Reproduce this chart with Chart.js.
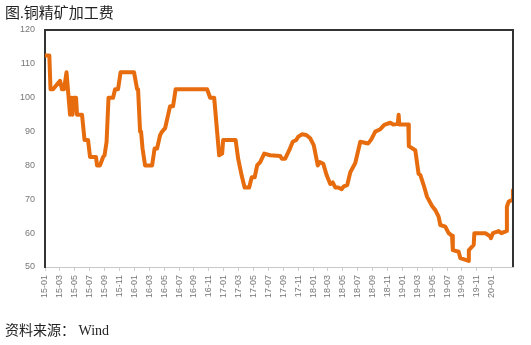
<!DOCTYPE html>
<html>
<head>
<meta charset="utf-8">
<script src="https://cdn.jsdelivr.net/npm/chart.js@4"></script>
<style>
  html, body { margin: 0; padding: 0; background: #fff; }
  #wrap { position: relative; width: 531px; height: 345px; }
  #tcChart { position: absolute; left: 0; top: 0; }
  .note { position: absolute; left: 5px; font-family: "Liberation Serif", "Noto Sans CJK SC", serif; color: #222; white-space: pre; }
  #title { top: 1px; font-size: 15px; }
  #source { top: 319px; font-size: 14px; }
</style>
</head>
<body>
<div id="wrap">
  <canvas id="tcChart" width="531" height="345"></canvas>
  <div id="title" class="note">图.铜精矿加工费</div>
  <div id="source" class="note">资料来源： Wind</div>
</div>
<script>
// months counted from 2015-01
const monthOffsets = [
  0, 0.58, 0.74, 1.08, 2.02, 2.28, 2.55, 2.89, 3.36, 3.56, 3.70, 3.83, 4.17, 4.30, 4.97,
  5.31, 5.78, 6.05, 6.85, 6.99, 7.39, 7.80, 8.00, 8.27, 8.53, 9.14, 9.41, 9.81, 10.15,
  11.96, 12.37, 12.50, 12.77, 12.90, 13.10, 13.44, 14.38, 14.72, 15.05, 15.46, 15.73,
  16.13, 16.80, 17.20, 17.54, 21.77, 22.18, 22.72, 23.39, 23.79, 23.92, 25.60, 25.94,
  26.41, 26.81, 27.42, 27.76, 28.16, 28.49, 28.90, 29.44, 30.24, 31.59, 31.79, 32.26,
  32.80, 33.27, 33.74, 34.01, 34.54, 35.08, 35.62, 36.09, 36.63, 36.90, 37.37, 37.84,
  38.31, 38.64, 38.98, 39.38, 39.85, 40.12, 40.59, 41.00, 41.67, 42.34, 43.41, 43.82,
  44.35, 45.03, 45.56, 46.37, 46.77, 47.38, 47.49, 47.58, 48.79, 48.86, 49.73, 50.17,
  50.40, 50.85, 51.30, 51.98, 52.42, 52.86, 53.09, 53.76, 54.21, 54.66, 54.77, 55.55,
  55.78, 56.90, 56.92, 57.57, 57.66, 59.14, 59.81, 59.88, 60.15, 60.93, 61.29, 61.96,
  62.03, 62.27, 62.73, 62.84
];
const tcValues = [
  112.5, 112.5, 102.5, 102.5, 105, 102.5, 102.5, 107.5, 95, 100, 95, 100, 100, 95, 95,
  87.5, 87.5, 82.5, 82.5, 80, 80, 82.5, 83, 87, 100, 100, 102.5, 102.5, 107.5,
  107.5, 102.5, 102.5, 90, 90, 85, 80, 80, 85, 85, 89, 90,
  91, 97.5, 97.5, 102.5, 102.5, 100, 100, 83, 83.5, 87.5, 87.5, 82,
  77, 73.5, 73.5, 76.5, 76.5, 80, 81, 83.5, 83, 82.8, 82, 82,
  84.5, 87, 87.5, 88.5, 89.2, 89, 88, 86, 80, 81, 80.5, 77,
  74.5, 75, 73.5, 73.5, 73, 73.8, 74.2, 78, 80.7, 87, 86.5, 87.7,
  90, 90.7, 92, 92.6, 92.1, 92.3, 95, 92.1, 92.1, 85.7, 84.5, 77.5,
  77.2, 74.2, 70.8, 68, 66.8, 64.9, 62.4, 61.9, 60, 59.2, 55, 54.5,
  52.6, 51.8, 55, 56.5, 60, 60, 59, 58.5, 60, 60.6, 60, 60.6,
  67.8, 69.3, 69.8, 72.7
];
const tickLabels = [
  '15-01', '15-03', '15-05', '15-07', '15-09', '15-11',
  '16-01', '16-03', '16-05', '16-07', '16-09', '16-11',
  '17-01', '17-03', '17-05', '17-07', '17-09', '17-11',
  '18-01', '18-03', '18-05', '18-07', '18-09', '18-11',
  '19-01', '19-03', '19-05', '19-07', '19-09', '19-11',
  '20-01'
];

const tcPoints = monthOffsets.map((m, i) => ({ x: m, y: tcValues[i] }));

// top and right edges of the plot frame
const frameLines = {
  id: 'frameLines',
  afterDraw(chart) {
    const { ctx, chartArea: a } = chart;
    ctx.save();
    ctx.strokeStyle = '#333';
    ctx.lineWidth = 2;
    ctx.beginPath();
    ctx.moveTo(a.left, a.top);
    ctx.lineTo(a.right, a.top);
    ctx.lineTo(a.right, a.bottom);
    ctx.stroke();
    ctx.restore();
  }
};

const tickFont = { family: '"Liberation Sans", "DejaVu Sans", sans-serif', size: 9 };

new Chart(document.getElementById('tcChart').getContext('2d'), {
  type: 'line',
  data: {
    datasets: [{
      label: '铜精矿加工费',
      data: tcPoints,
      borderColor: '#E66C0E',
      borderWidth: 4,
      borderJoinStyle: 'round',
      borderCapStyle: 'round',
      pointRadius: 0,
      tension: 0,
      fill: false
    }]
  },
  options: {
    responsive: false,
    animation: false,
    layout: { padding: { left: 0, top: 30, right: 18, bottom: 0 } },
    plugins: { legend: { display: false }, tooltip: { enabled: false } },
    scales: {
      x: {
        type: 'linear',
        min: 0,
        max: 62.85,
        afterBuildTicks: s => { s.ticks = tickLabels.map((l, i) => ({ value: i * 2 })); },
        afterFit: s => { s.height = 78; },
        ticks: {
          autoSkip: false,
          minRotation: 90,
          maxRotation: 90,
          padding: 4,
          color: '#777',
          font: tickFont,
          callback: v => tickLabels[Math.round(v / 2)]
        },
        grid: { drawOnChartArea: false, tickLength: 4, color: '#d0d0d0' },
        border: { color: '#c8c8c8', width: 1 }
      },
      y: {
        min: 50,
        max: 120,
        afterFit: s => { s.width = 45; },
        ticks: { stepSize: 10, padding: 10, color: '#777', font: tickFont },
        grid: { display: false, drawTicks: false },
        border: { color: '#333', width: 2 }
      }
    }
  },
  plugins: [frameLines]
});
</script>
</body>
</html>
